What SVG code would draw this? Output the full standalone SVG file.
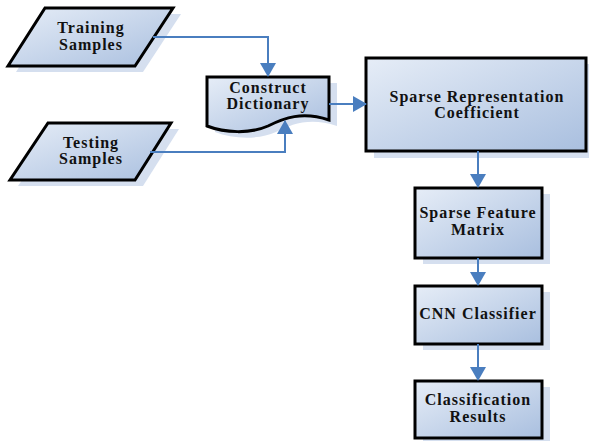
<svg xmlns="http://www.w3.org/2000/svg" width="589" height="441" viewBox="0 0 589 441">
<style>
.shape{fill:url(#g);stroke:#000;stroke-width:3;stroke-linejoin:miter}
.shadow{fill:#d5dfef}
.lbl{font-family:"Liberation Serif","Times New Roman",serif;font-weight:bold;font-size:16px;letter-spacing:1px;fill:#111;text-anchor:middle}
.con{fill:none;stroke:#4a7ebf;stroke-width:2}
</style>
<defs>
<linearGradient id="g" x1="0" y1="0" x2="1" y2="1">
<stop offset="0" stop-color="#e6edf7"/>
<stop offset="1" stop-color="#a9bfdf"/>
</linearGradient>
<marker id="ah" markerUnits="userSpaceOnUse" markerWidth="14" markerHeight="16" refX="13" refY="8" orient="auto">
<path d="M0,0 L14,8 L0,16 Z" fill="#4a7ebf"/>
</marker>
</defs>
<rect width="589" height="441" fill="#fff"/>
<g id="training">
<polygon class="shadow" points="53,14 181,14 143,72 16,72"/>
<polygon class="shape" points="45,8 173,8 135,66 8,66"/>
<text class="lbl" x="91" y="33">Training</text>
<text class="lbl" x="91" y="50">Samples</text>
</g>
<g id="testing">
<polygon class="shadow" points="56,129 179,129 143,186 18,186"/>
<polygon class="shape" points="48,123 171,123 135,180 10,180"/>
<text class="lbl" x="91" y="148">Testing</text>
<text class="lbl" x="91" y="164">Samples</text>
</g>
<g id="dictionary">
<path class="shadow" d="M215,83 H337 V126 C310,117 292,124 276,132 C258,140 233,139 215,132 Z"/>
<path class="shape" d="M207,77 H329 V120 C302,111 284,118 268,126 C250,134 225,133 207,126 Z"/>
<text class="lbl" x="268" y="93">Construct</text>
<text class="lbl" x="268" y="109">Dictionary</text>
</g>
<g id="src">
<rect class="shadow" x="374" y="64" width="215" height="94"/>
<rect class="shape" x="366" y="58" width="220" height="93"/>
<text class="lbl" x="477" y="102">Sparse Representation</text>
<text class="lbl" x="477" y="118">Coefficient</text>
</g>
<g id="sfm">
<rect class="shadow" x="423" y="194" width="127" height="70"/>
<rect class="shape" x="415" y="188" width="127" height="70"/>
<text class="lbl" x="478" y="218">Sparse Feature</text>
<text class="lbl" x="478" y="235">Matrix</text>
</g>
<g id="cnn">
<rect class="shadow" x="423" y="292" width="127" height="58"/>
<rect class="shape" x="415" y="286" width="127" height="58"/>
<text class="lbl" x="478" y="319">CNN Classifier</text>
</g>
<g id="results">
<rect class="shadow" x="423" y="387" width="127" height="54"/>
<rect class="shape" x="415" y="381" width="127" height="57"/>
<text class="lbl" x="478" y="405">Classification</text>
<text class="lbl" x="478" y="422">Results</text>
</g>
<g id="connectors">
<path class="con" d="M153,37 H268 V76" marker-end="url(#ah)"/>
<path class="con" d="M150,152 H285 V121" marker-end="url(#ah)"/>
<path class="con" d="M329,104 H366" marker-end="url(#ah)"/>
<path class="con" d="M478,151 V187" marker-end="url(#ah)"/>
<path class="con" d="M478,258 V285" marker-end="url(#ah)"/>
<path class="con" d="M478,344 V380" marker-end="url(#ah)"/>
</g>
</svg>
